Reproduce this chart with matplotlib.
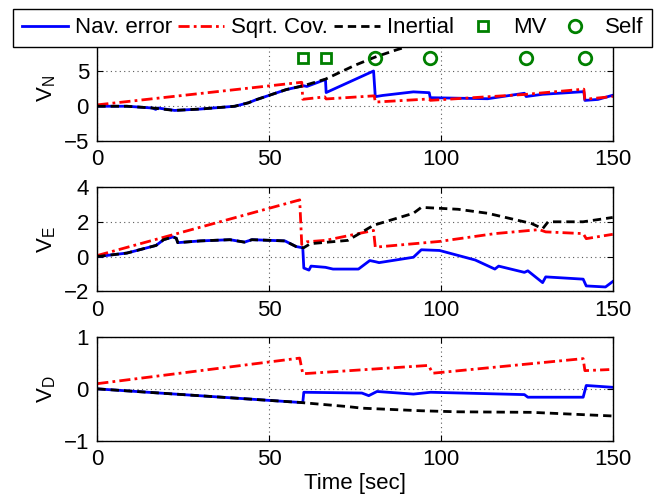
import matplotlib
matplotlib.use("Agg")
import matplotlib.pyplot as plt
from matplotlib.lines import Line2D

plt.rcParams['font.family'] = ['Liberation Sans', 'DejaVu Sans']
plt.rcParams['mathtext.default'] = 'regular'
plt.rcParams['font.size'] = 16

# ---- V_N panel ----
nav_n_t = [0, 8.6, 16, 17, 17.6, 22.5, 30, 40, 44, 46, 55, 60, 61, 66.4, 66.6, 80.4, 80.9, 83, 92, 96.6, 96.9, 113.6, 124.3, 124.8, 129.6, 141.6, 141.9, 145.7, 150]
nav_n_v = [0, 0, -0.25, -0.45, -0.25, -0.6, -0.4, 0, 0.5, 0.9, 2.4, 2.95, 2.85, 3.85, 1.97, 5.07, 1.38, 1.55, 2.07, 1.95, 1.23, 1.08, 1.87, 1.4, 1.72, 2.1, 0.84, 0.98, 1.58]
cov_n_t = [0, 59.5, 59.8, 66.2, 66.6, 80.6, 80.9, 96.6, 96.9, 124.5, 141.6, 141.9, 150]
cov_n_v = [0.2, 3.45, 1.0, 1.35, 1.05, 1.5, 0.6, 1.05, 0.85, 1.7, 2.46, 1.0, 1.4]
ins_n_t = [0, 8.6, 16, 22.5, 30, 40, 44, 46, 55, 60, 66.4, 75, 81, 87, 93, 100, 110]
ins_n_v = [0, 0, -0.25, -0.6, -0.4, 0, 0.5, 0.9, 2.4, 2.95, 3.9, 5.9, 7.1, 8.1, 9.0, 9.9, 11.0]
mv_t = [60, 66.5]
mv_v = [7, 7]
self_t = [80.9, 96.9, 124.8, 141.9]
self_v = [7, 7, 7, 7]

# ---- V_E panel ----
nav_e_t = [0, 8.6, 17.1, 19.3, 22, 23, 23.4, 30, 38.6, 42.8, 45, 54.6, 57.8, 59.8, 60.1, 61.6, 62.2, 66.4, 68.6, 76, 79.3, 81, 82, 92, 94.3, 99.6, 110, 115.7, 116.8, 124.3, 125.3, 129.6, 130.5, 141.4, 142.3, 147.9, 150]
nav_e_v = [0, 0.2, 0.64, 0.97, 1.13, 1.05, 0.8, 0.9, 0.97, 0.83, 0.97, 0.9, 0.58, 0.5, -0.66, -0.78, -0.55, -0.62, -0.72, -0.72, -0.23, -0.3, -0.35, -0.04, 0.39, 0.35, -0.2, -0.72, -0.55, -0.91, -0.82, -1.5, -1.17, -1.3, -1.69, -1.75, -1.44]
cov_e_t = [0, 58.9, 59.5, 61, 66.4, 80.4, 80.9, 99.6, 115.7, 128.6, 130.5, 141.4, 142.3, 150]
cov_e_v = [0.06, 3.26, 0.7, 0.85, 0.93, 1.5, 0.54, 0.87, 1.32, 1.55, 1.42, 1.32, 1.03, 1.28]
ins_e_t = [0, 8.6, 17.1, 19.3, 22, 23, 23.4, 30, 38.6, 42.8, 45, 54.6, 57.8, 60, 62, 72.9, 80.4, 92, 94.3, 105, 113.6, 126.4, 129.6, 131.2, 141.4, 150]
ins_e_v = [0, 0.2, 0.64, 0.97, 1.13, 1.05, 0.8, 0.9, 0.97, 0.83, 0.97, 0.9, 0.58, 0.5, 0.74, 0.93, 1.8, 2.49, 2.83, 2.72, 2.49, 1.9, 1.6, 2.0, 2.0, 2.25]

# ---- V_D panel ----
nav_d_t = [0, 58.9, 59.8, 60.1, 77, 79, 81.4, 92, 97, 124.3, 125.3, 141.4, 142.3, 150]
nav_d_v = [0, -0.26, -0.26, -0.065, -0.08, -0.13, -0.05, -0.1, -0.065, -0.11, -0.16, -0.16, 0.065, 0.03]
cov_d_t = [0, 58.9, 59.8, 96.4, 97.6, 141.4, 141.9, 149]
cov_d_v = [0.1, 0.59, 0.29, 0.45, 0.3, 0.58, 0.35, 0.37]
ins_d_t = [0, 58.9, 72.9, 77, 94.3, 105, 126.4, 150]
ins_d_v = [0, -0.26, -0.34, -0.37, -0.42, -0.44, -0.45, -0.52]

# the "10" label of the top panel sits under the legend in the original
panels = [
    ('V$_N$', nav_n_t, nav_n_v, cov_n_t, cov_n_v, ins_n_t, ins_n_v, (-5, 10), [-5, 0, 5, 10], ['\u22125', '0', '5', '']),
    ('V$_E$', nav_e_t, nav_e_v, cov_e_t, cov_e_v, ins_e_t, ins_e_v, (-2, 4), [-2, 0, 2, 4], None),
    ('V$_D$', nav_d_t, nav_d_v, cov_d_t, cov_d_v, ins_d_t, ins_d_v, (-1, 1), [-1, 0, 1], None),
]
bottoms = [0.7174, 0.4162, 0.1162]
green = (0, 0.5, 0)

fig = plt.figure(figsize=(6.67, 4.99), dpi=100)

for i, (lab, bt, bv, rt, rv, kt, kv, ylim, yt, ytl) in enumerate(panels):
    ax = fig.add_axes([0.1459, bottoms[i], 0.7727, 0.209])
    ax.plot(bt, bv, color='b', lw=2)
    ax.plot(rt, rv, color='r', lw=2, dashes=(4, 1.5, 1, 1.5))
    ax.plot(kt, kv, color='k', lw=2, dashes=(3, 1.8))
    if i == 0:
        ax.plot(mv_t, mv_v, 's', ms=7, mfc='none', mec=green, mew=2)
        ax.plot(self_t, self_v, 'o', ms=9, mfc='none', mec=green, mew=2)
    ax.set_xlim(0, 150)
    ax.set_ylim(*ylim)
    ax.set_xticks([0, 50, 100, 150])
    ax.set_yticks(yt)
    if ytl is not None:
        ax.set_yticklabels(ytl)
    ax.grid(True, color='0.35', linestyle=(0, (1, 3)), linewidth=0.8)
    ax.tick_params(direction='in', top=True, right=True, length=4, pad=6)
    ax.set_ylabel(lab)
    for s in ax.spines.values():
        s.set_linewidth(1)

ax.set_xlabel('Time [sec]', labelpad=2)

handles = [
    Line2D([], [], color='b', lw=2),
    Line2D([], [], color='r', lw=2, dashes=(4, 1.5, 1, 1.5)),
    Line2D([], [], color='k', lw=2, dashes=(3, 1.8)),
    Line2D([], [], ls='none', marker='s', ms=7, mfc='none', mec=green, mew=2),
    Line2D([], [], ls='none', marker='o', ms=9, mfc='none', mec=green, mew=2),
]
labels = ['Nav. error', 'Sqrt. Cov.', 'Inertial', 'MV', 'Self']
leg = fig.legend(handles, labels, loc='upper left', bbox_to_anchor=(13.3 / 667, 1 - 9 / 499),
                 ncol=5, frameon=True, fancybox=False, edgecolor='k', framealpha=1,
                 borderpad=0.38, borderaxespad=0, handlelength=2.1, handletextpad=0.3,
                 columnspacing=0.25)
leg.get_frame().set_linewidth(1)

fig.savefig('out.png', dpi=100)
